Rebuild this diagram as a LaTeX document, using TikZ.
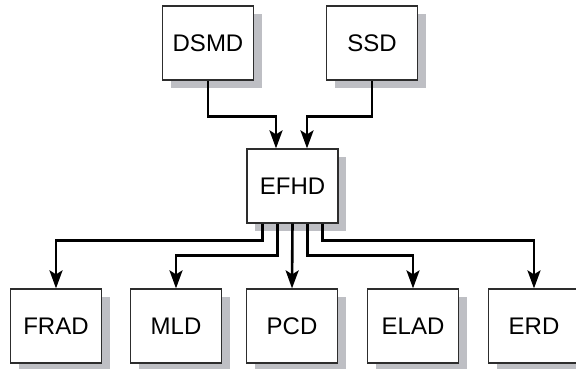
\documentclass[tikz,border=0pt]{standalone}
\usepackage{fontspec}
\setmainfont{Liberation Sans}
\usetikzlibrary{arrows.meta,shadows}
\definecolor{shadowgray}{RGB}{190,191,196}
\definecolor{edgegray}{RGB}{45,45,45}
\begin{document}
\begin{tikzpicture}[x=1pt,y=1pt,%
% common options for the boxes:
box/.style = {draw=edgegray, fill=white, line width=1.2pt, align=center,
            minimum width=91pt, minimum height=74pt, inner sep=0,
            font=\fontsize{24}{28}\selectfont,
            drop shadow={shadow xshift=8pt, shadow yshift=-8pt,
                         fill=shadowgray, opacity=1}},
% common options for the arrows:
link/.style = {line width=2.6pt, black,
            -{Stealth[length=18pt, width=13pt, inset=4pt]}}]
\useasboundingbox (0,0) rectangle (576,369);
\clip (0,0) rectangle (576,369);
\node[box] (DSMD) at (208,326) {DSMD};
\node[box] (SSD) at (372,326) {SSD};
\node[box] (EFHD) at (292.5,183) {EFHD};
\node[box] (FRAD) at (56,43) {FRAD};
\node[box] (MLD) at (176,43) {MLD};
\node[box] (PCD) at (292,43) {PCD};
\node[box] (ELAD) at (413,43) {ELAD};
\node[box] (ERD) at (534,43) {ERD};
\draw[link] (DSMD.south) -- ++(0,-36) -| ([xshift=-16.5pt]EFHD.north);
\draw[link] (SSD.south) -- ++(0,-36) -| ([xshift=14.5pt]EFHD.north);
\draw[link] ([xshift=-30pt]EFHD.south) -- ++(0,-17) -| (FRAD.north);
\draw[link] ([xshift=-15pt]EFHD.south) -- ++(0,-32) -| (MLD.north);
\draw[link] (EFHD.south) -- (PCD.north);
\draw[link] ([xshift=15pt]EFHD.south) -- ++(0,-32) -| (ELAD.north);
\draw[link] ([xshift=30pt]EFHD.south) -- ++(0,-17) -| (ERD.north);
\end{tikzpicture}
\end{document}
